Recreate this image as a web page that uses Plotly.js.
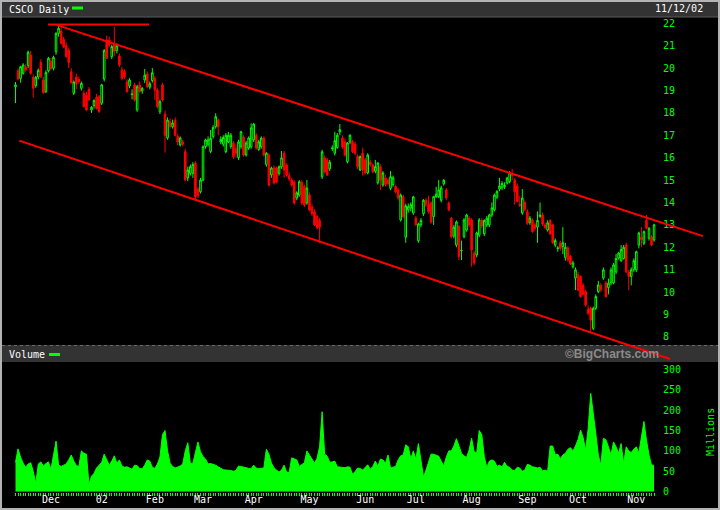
<!DOCTYPE html>
<html><head><meta charset="utf-8">
<script src="https://cdn.plot.ly/plotly-3.0.1.min.js"></script>
<style>html,body{margin:0;padding:0;background:#000;}#chart{width:720px;height:510px;}</style>
</head><body><div id="chart"></div>
<script>
// Trading days Nov 12 2001 .. Nov 12 2002, indexed 0..252
const priceOpen = [
19.16,19.88,19.54,19.77,20.06,20.11,20.58,19.59,19.22,19.60,
20.25,19.47,18.95,19.88,20.30,19.99,20.73,21.55,21.66,21.28,
21.00,20.80,19.84,18.88,19.60,19.50,19.10,18.88,18.80,19.05,
18.13,18.33,18.70,18.72,18.43,19.51,21.25,21.25,20.51,21.05,
20.78,20.54,19.92,19.85,19.38,19.20,18.82,19.25,18.13,19.25,
18.98,19.47,19.74,19.15,19.44,19.54,19.02,18.05,19.25,17.95,
16.88,17.60,17.38,17.68,16.95,16.57,16.70,16.27,15.10,15.30,
15.30,15.76,14.60,14.48,15.00,16.50,16.60,16.27,16.95,17.38,
17.68,16.70,16.60,16.27,16.70,16.50,16.66,16.40,16.00,16.49,
16.92,16.12,16.43,16.49,16.80,17.00,16.37,16.49,16.88,15.70,
16.12,15.23,15.54,15.54,15.30,15.60,16.20,15.67,15.20,15.00,
14.92,14.20,14.33,14.90,14.71,13.98,14.33,13.80,13.59,13.37,
13.20,15.15,15.99,15.90,15.50,16.40,16.20,16.45,17.15,16.88,
16.71,15.82,16.70,16.71,16.60,16.05,15.45,16.20,15.90,15.32,
15.80,15.67,15.40,14.88,15.60,14.78,15.10,15.00,14.63,14.80,
14.71,14.56,13.22,14.26,12.45,13.67,13.75,13.53,13.30,12.29,
13.00,13.50,14.10,13.90,13.98,13.37,14.26,14.26,14.10,14.83,
14.56,13.98,13.30,12.50,12.10,12.92,11.85,12.47,12.77,13.30,
13.22,11.74,11.66,12.55,13.20,12.60,13.00,13.00,13.44,13.67,
14.24,14.60,14.65,14.70,14.87,14.93,15.30,15.00,14.74,13.92,
13.53,14.00,13.59,13.10,13.22,13.00,12.90,13.38,13.44,13.00,
12.77,13.20,13.00,12.10,11.94,12.20,12.03,11.55,11.97,11.60,
11.13,10.63,10.77,10.69,10.30,10.02,9.24,9.29,8.38,9.28,
10.02,10.30,10.63,10.41,10.20,10.41,10.41,10.90,11.52,11.40,
11.50,12.10,10.90,10.70,11.00,10.99,12.10,12.45,12.18,13.20,
12.40,12.47,12.33];
const priceHigh = [
19.38,19.98,20.10,20.22,20.18,20.78,20.76,19.72,19.65,19.98,
20.40,19.60,19.90,20.50,20.45,20.55,21.60,21.92,21.85,21.40,
21.15,20.90,20.00,19.45,19.75,19.62,19.40,19.00,18.95,19.15,
18.30,18.60,18.85,18.80,19.30,20.85,21.45,21.40,21.05,21.85,
21.10,20.65,20.05,19.95,19.50,19.55,19.05,19.35,19.25,19.40,
19.15,19.96,19.85,19.40,20.00,19.65,19.10,18.60,19.35,18.10,
17.80,17.75,17.70,17.80,17.05,16.95,16.80,16.40,15.60,15.70,
15.80,15.85,14.70,15.10,16.55,16.85,16.95,17.24,17.45,17.98,
17.75,16.95,17.00,17.10,17.15,17.10,16.75,16.60,16.80,17.20,
17.00,16.75,16.95,17.53,17.55,17.10,16.80,16.95,16.95,16.25,
16.20,15.60,15.65,15.60,15.65,16.30,16.30,15.75,15.35,15.10,
15.00,14.50,15.00,15.00,14.80,15.00,14.45,13.95,13.70,13.45,
13.30,16.35,16.10,16.00,15.90,16.55,17.16,17.10,17.50,17.00,
16.85,16.70,17.05,16.80,16.70,16.15,16.10,16.45,16.00,16.20,
15.90,15.75,15.90,15.80,15.70,15.40,15.25,15.10,15.40,15.20,
14.80,14.65,14.40,14.35,13.95,13.95,14.00,14.30,13.40,13.10,
13.30,14.15,14.20,14.30,14.05,14.30,14.70,15.00,14.75,15.04,
14.65,14.05,13.35,13.00,13.20,13.00,12.30,13.30,13.50,13.40,
13.30,11.85,12.70,13.30,13.30,13.25,13.40,13.50,14.00,14.40,
14.55,15.10,14.95,14.90,15.15,15.40,15.50,15.10,14.85,14.30,
14.60,14.10,13.70,13.40,13.30,13.10,13.60,14.00,13.55,13.10,
13.20,13.25,13.05,12.40,12.05,12.30,12.90,12.20,12.05,11.65,
11.40,11.10,10.90,10.75,10.40,10.10,9.40,9.35,9.35,9.90,
10.50,10.40,11.10,10.50,10.60,11.10,11.30,11.70,11.80,12.10,
12.10,12.20,11.00,11.10,11.50,11.85,12.70,12.90,12.75,13.44,
12.90,12.55,13.05];
const priceLow = [
18.44,19.45,19.35,19.70,19.84,20.00,19.70,18.68,19.12,19.50,
19.55,18.85,18.88,19.80,19.90,19.90,20.60,21.40,21.05,20.90,
20.45,20.00,19.30,18.80,19.05,19.30,19.00,18.25,18.10,18.55,
18.00,18.20,18.15,18.00,18.35,19.40,20.40,20.95,20.40,20.55,
20.65,20.05,19.45,19.50,18.90,19.10,18.60,18.50,18.05,18.90,
18.85,19.33,19.10,19.05,19.35,18.58,18.20,17.95,18.50,16.22,
16.80,17.30,17.30,16.95,16.55,16.50,16.50,14.95,14.95,15.20,
15.10,14.10,14.20,14.40,14.95,16.40,16.50,16.20,16.85,17.30,
17.00,16.60,16.50,16.20,16.65,16.40,15.95,16.00,15.90,16.40,
16.05,16.05,16.35,16.40,16.70,16.35,16.30,16.40,16.05,15.60,
14.70,15.10,14.80,14.85,15.20,15.50,15.10,15.15,14.95,14.70,
13.90,14.10,14.25,13.90,13.80,13.90,13.60,13.40,12.95,12.80,
12.18,15.05,15.30,15.20,15.40,16.30,16.10,16.40,17.00,16.40,
16.05,15.75,16.60,16.20,16.10,15.50,15.40,15.20,15.25,15.25,
15.60,15.30,15.30,14.80,14.55,14.70,14.70,14.75,14.55,14.70,
14.40,14.10,13.15,13.30,12.20,13.55,13.60,13.45,12.95,12.20,
12.90,13.40,13.80,13.50,13.05,13.00,14.20,14.20,14.00,14.75,
14.10,13.60,12.40,12.40,12.00,11.43,11.43,12.40,12.70,12.90,
11.13,11.20,11.55,12.45,12.85,12.50,12.90,12.90,13.35,13.60,
14.15,14.50,14.55,14.60,14.80,14.85,15.00,13.90,14.00,13.80,
13.45,13.60,13.00,13.00,12.65,12.75,12.20,13.30,12.95,12.80,
12.70,12.55,12.15,12.00,11.80,11.85,11.70,11.40,11.35,11.20,
11.05,10.09,10.05,9.75,9.85,9.35,8.95,8.16,8.30,9.20,
9.95,10.00,10.55,9.75,9.90,10.30,10.35,10.80,11.45,11.35,
11.45,10.85,10.09,10.30,10.90,10.90,11.95,12.00,12.10,12.80,
12.30,12.05,12.25];
const priceClose = [
19.25,19.51,20.06,20.14,19.91,20.71,19.77,19.10,19.59,19.90,
19.62,18.90,19.80,20.44,19.98,20.48,21.55,21.78,21.11,20.95,
20.52,20.25,19.35,19.38,19.30,19.40,19.32,18.28,18.13,18.58,
18.25,18.55,18.20,18.05,19.25,20.78,20.44,21.03,20.96,20.75,
21.00,20.14,19.54,19.60,18.95,19.47,18.84,18.58,19.17,18.95,
19.10,19.69,19.17,19.30,19.79,19.02,18.28,18.50,18.58,17.00,
17.68,17.40,17.55,17.00,16.70,16.88,16.60,15.00,15.45,15.60,
15.70,14.26,14.30,15.00,16.49,16.79,16.80,16.86,17.35,17.83,
17.38,16.82,16.90,17.00,17.00,17.00,16.05,16.20,16.70,17.16,
16.12,16.66,16.88,17.33,17.50,16.43,16.71,16.88,16.12,16.20,
14.78,15.54,14.87,14.92,15.60,15.99,15.45,15.23,15.05,14.78,
13.98,14.43,14.93,13.98,13.89,14.64,13.67,13.50,13.00,12.86,
12.90,16.26,15.36,15.22,15.80,16.43,16.76,17.00,17.25,16.49,
16.12,16.66,17.00,16.27,16.20,15.60,16.05,15.45,15.32,16.12,
15.70,15.37,15.60,15.76,15.00,15.32,14.80,14.85,15.15,15.10,
14.48,14.20,14.33,13.37,13.85,13.81,13.90,14.25,13.02,13.04,
13.20,14.10,13.90,13.60,13.13,14.26,14.37,14.56,14.65,15.00,
14.20,13.67,12.47,12.90,13.13,11.58,11.86,13.22,13.44,13.00,
11.88,11.30,12.64,13.22,12.95,13.20,13.30,13.44,13.76,14.33,
14.49,14.74,14.85,14.76,15.09,15.33,15.22,14.48,14.04,13.86,
14.20,13.70,13.07,13.30,12.70,12.85,13.20,13.44,13.04,12.88,
13.09,12.60,12.20,12.30,11.97,11.95,12.20,12.00,11.43,11.25,
11.30,10.99,10.09,9.80,9.90,9.42,9.06,8.75,9.28,9.80,
10.32,10.10,10.99,9.80,10.40,10.99,11.21,11.50,11.74,11.90,
12.00,10.91,10.70,11.00,11.40,11.80,12.64,12.35,12.70,12.85,
12.85,12.10,13.00];
const volumeMillions = [
72,105,85,70,60,68,71,50,21,68,
73,63,69,73,55,95,124,65,62,65,
68,78,90,75,64,62,100,94,92,18,
38,45,58,65,72,92,78,65,75,88,
70,78,63,60,61,57,55,65,64,57,
56,65,78,75,60,57,68,85,140,150,
100,70,62,58,60,63,68,100,120,69,
70,100,122,98,86,80,68,69,67,65,
61,57,54,53,53,52,50,52,63,62,
60,59,57,57,65,58,57,57,58,104,
92,70,59,53,48,53,65,48,47,83,
81,78,62,66,71,100,90,79,70,82,
110,196,92,87,72,73,75,61,60,60,
59,61,60,43,49,58,57,53,60,66,
55,62,75,62,80,78,70,90,58,61,
62,78,88,90,115,110,81,100,80,118,
70,36,53,75,92,92,90,87,75,63,
85,100,100,112,130,114,94,88,84,102,
131,98,95,150,140,86,59,75,78,75,
62,65,61,72,62,60,53,52,60,58,
50,53,67,65,61,60,58,60,51,53,
50,112,112,90,92,81,90,94,104,108,
100,112,128,151,133,102,155,241,185,143,
90,65,131,127,110,90,122,110,94,118,
69,110,100,96,104,110,95,131,172,127,
90,65,65];
const monthStartIdx = [14,34,55,74,94,116,138,158,180,202,222,245];
const monthLabels = ['Dec','02','Feb','Mar','Apr','May','Jun','Jul','Aug','Sep','Oct','Nov'];
const priceTicks = [8,9,10,11,12,13,14,15,16,17,18,19,20,21,22];
const volumeTicks = [0,50,100,150,200,250,300];
// trend lines drawn on the chart: [day index, price]
const channelTop = [[16.4,21.92],[271.3,12.50]];
const channelBottom = [[1.5,16.76],[258.3,7.01]];
const highLine = [[12.8,21.95],[52.7,21.95]];

const dayIdx = priceClose.map((_, i) => i);
const tickText = dayIdx.map(i => { const k = monthStartIdx.indexOf(i); return k >= 0 ? monthLabels[k] : ''; });

const W = 720, H = 510;
const px = v => v / W;            // x pixel -> paper
const py = v => 1 - v / H;        // y pixel -> paper
const GREEN = '#00ff00', RED = '#ff0000';
const FONT = 'DejaVu Sans Mono, monospace';

const traces = [
  {type:'candlestick', x: dayIdx, open: priceOpen, high: priceHigh, low: priceLow, close: priceClose,
   xaxis:'x', yaxis:'y', hoverinfo:'skip', whiskerwidth:0,
   increasing:{line:{color:GREEN, width:1}, fillcolor:'#000000'},
   decreasing:{line:{color:RED, width:1}, fillcolor:RED}},
  {type:'scatter', mode:'lines', x: dayIdx, y: volumeMillions, xaxis:'x2', yaxis:'y2',
   fill:'tozeroy', fillcolor:GREEN, line:{color:GREEN, width:1}, hoverinfo:'skip'}
];

const lineShape = (pts) => ({type:'line', xref:'x', yref:'y', x0:pts[0][0], y0:pts[0][1], x1:pts[1][0], y1:pts[1][1],
  line:{color:RED, width:2}, layer:'above'});

const shapes = [
  {type:'rect', xref:'paper', yref:'paper', x0:px(2), x1:px(718), y0:py(17), y1:py(2), fillcolor:'#333333', line:{width:0}, layer:'below'},
  {type:'line', xref:'paper', yref:'paper', x0:px(2), x1:px(718), y0:py(17), y1:py(17), line:{color:'#5a5a5a', width:1}, layer:'below'},
  {type:'rect', xref:'paper', yref:'paper', x0:px(2), x1:px(718), y0:py(362), y1:py(345), fillcolor:'#333333', line:{width:0}, layer:'below'},
  {type:'line', xref:'paper', yref:'paper', x0:px(2), x1:px(718), y0:py(345.5), y1:py(345.5), line:{color:'#6a6a6a', width:1, dash:'dot'}, layer:'below'},
  {type:'rect', xref:'paper', yref:'paper', x0:px(72), x1:px(83), y0:py(9.5), y1:py(6.5), fillcolor:GREEN, line:{width:0}},
  {type:'rect', xref:'paper', yref:'paper', x0:px(49), x1:px(60), y0:py(356), y1:py(353), fillcolor:GREEN, line:{width:0}},
  lineShape(highLine), lineShape(channelTop), lineShape(channelBottom),
  {type:'rect', xref:'paper', yref:'paper', x0:px(1), x1:px(719), y0:py(509), y1:py(1), line:{color:'#b4b4b4', width:2}, layer:'above'}
];

const annotations = [
  {xref:'paper', yref:'paper', x:px(7), y:py(9), xanchor:'left', yanchor:'middle', showarrow:false, text:'CSCO Daily', font:{family:FONT, size:10, color:'#ffffff'}},
  {xref:'paper', yref:'paper', x:px(705), y:py(8.5), xanchor:'right', yanchor:'middle', showarrow:false, text:'11/12/02', font:{family:FONT, size:10, color:'#ffffff'}},
  {xref:'paper', yref:'paper', x:px(7), y:py(354.5), xanchor:'left', yanchor:'middle', showarrow:false, text:'Volume', font:{family:FONT, size:10, color:'#ffffff'}},
  {xref:'paper', yref:'paper', x:px(563), y:py(354), xanchor:'left', yanchor:'middle', showarrow:false, text:'©BigCharts.com', font:{family:'Liberation Sans, Arial, sans-serif', size:12, color:'#8a8a8a', weight:'bold'}},
  {xref:'paper', yref:'paper', x:px(710), y:py(432), xanchor:'center', yanchor:'middle', showarrow:false, textangle:-90, text:'Millions', font:{family:FONT, size:10, color:GREEN}}
];

const layout = {
  width: W, height: H,
  margin:{l:0, r:0, t:0, b:0, pad:0},
  paper_bgcolor:'#000000', plot_bgcolor:'#000000',
  font:{family:FONT, size:10, color:'#ffffff'},
  showlegend:false, hovermode:false, boxgap:0.12,
  xaxis:{domain:[0,1], range:[-6.117, 278.02], anchor:'y', showticklabels:false, ticks:'', showgrid:false, zeroline:false, showline:false, rangeslider:{visible:false}, fixedrange:true},
  yaxis:{domain:[py(362), py(17)], range:[6.879, 22.281], anchor:'free', position:px(662), side:'right',
         tickmode:'array', tickvals:priceTicks, ticks:'', showgrid:false, zeroline:false, showline:false,
         tickfont:{family:FONT, size:10, color:GREEN}, fixedrange:true},
  xaxis2:{domain:[0,1], range:[-6.117, 278.02], anchor:'y2', tickmode:'array', tickvals:dayIdx, ticktext:tickText,
          ticks:'outside', ticklen:3, tickwidth:1, tickcolor:GREEN, showgrid:false, zeroline:false, showline:false,
          ticklabelstandoff:-5,
          tickfont:{family:FONT, size:10, color:'#ffffff'}, fixedrange:true},
  yaxis2:{domain:[py(491.7), py(362)], range:[0, 317.9], anchor:'free', position:px(662), side:'right',
          tickmode:'array', tickvals:volumeTicks, ticks:'', showgrid:false, zeroline:false, showline:false,
          tickfont:{family:FONT, size:10, color:GREEN}, fixedrange:true},
  shapes: shapes, annotations: annotations
};

Plotly.newPlot('chart', traces, layout, {staticPlot:true, displayModeBar:false});
</script>
</body></html>
